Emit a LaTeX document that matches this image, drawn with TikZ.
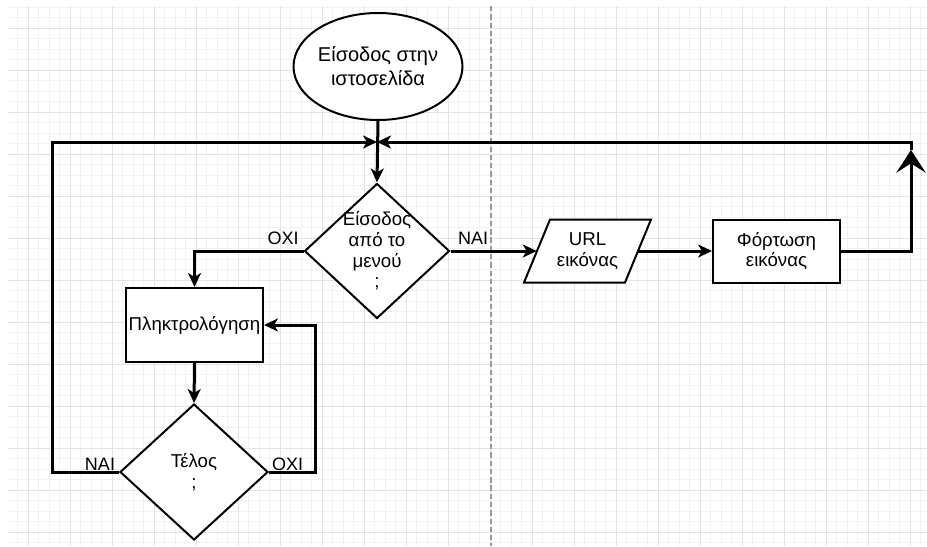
\documentclass[tikz,border=0pt]{standalone}
\usepackage{fontspec}
\setmainfont{Liberation Sans}
\usetikzlibrary{arrows.meta,shapes.geometric}

\tikzset{
  minorgrid/.style={draw=black!5, line width=0.75pt},
  majorgrid/.style={draw=black!11, line width=0.75pt},
  divider/.style={draw=black!40, line width=0.9pt, dash pattern=on 4pt off 2.2pt},
  shapeline/.style={draw=black, line width=1.5pt, fill=white},
  boxtext/.style={font=\fontsize{14}{15.5}\selectfont, align=center, text=black},
  answer/.style={font=\fontsize{13.5}{15}\selectfont, anchor=base, inner sep=0pt},
  startshape/.style={shapeline, ellipse, minimum width=126.75pt, minimum height=80.25pt, inner sep=0pt},
  decision/.style={shapeline, diamond, inner sep=0pt},
  process/.style={shapeline, rectangle, inner sep=0pt},
  conn/.style={line width=2.25pt, -{Stealth[length=10.5pt, width=9.75pt, inset=3pt]}},
  bigconn/.style={line width=2.25pt, -{Stealth[length=17pt, width=22pt, inset=7pt]}},
}

\begin{document}
\begin{tikzpicture}[x=0.75pt, y=-0.75pt]
\useasboundingbox (0,0) rectangle (927,546);

% background grid
\begin{scope}
  \clip (8,6) rectangle (927,546);
  \foreach \k in {0,...,87} \draw[minorgrid] (7+10.5*\k,6) -- (7+10.5*\k,546);
  \foreach \k in {0,...,51} \draw[minorgrid] (8,7+10.5*\k) -- (927,7+10.5*\k);
  \foreach \k in {0,...,21} \draw[majorgrid] (28+42*\k,6) -- (28+42*\k,546);
  \foreach \k in {0,...,12} \draw[majorgrid] (8,28+42*\k) -- (927,28+42*\k);
\end{scope}

% page divider
\coordinate (divTop) at (491,6);
\coordinate (divBot) at (491,546);
\draw[divider] (divTop) -- (divBot);

% flowchart shapes
\node[startshape, label={[boxtext, font=\fontsize{15}{18}\selectfont]center:{Είσοδος στην\\ιστοσελίδα}}] (start) at (378,66.5) {};
\node[decision, minimum width=108.75pt, minimum height=101.25pt,
      label={[boxtext]center:{Είσοδος\\από το\\μενού\\;}}] (d1) at (377,251) {};
\node[process, minimum width=102.75pt, minimum height=55.5pt, boxtext] (typing) at (194.5,325) {Πληκτρολόγηση};
\node[decision, minimum width=111pt, minimum height=102pt,
      label={[boxtext]center:{Τέλος\\;}}] (d2) at (194,472) {};

% input parallelogram
\filldraw[shapeline] (524,282.5) -- (550,219.5) -- (651,219.5) -- (625,282.5) -- cycle;
\node[boxtext, minimum width=75.75pt, minimum height=47.25pt, inner sep=0pt] (url) at (587.5,251) {URL\\εικόνας};
\node[process, minimum width=95.25pt, minimum height=47.25pt, boxtext] (fort) at (776.5,251) {Φόρτωση\\εικόνας};

% routing points
\coordinate (junction) at (377,142);
\coordinate (loopL) at (52,142);
\coordinate (loopR) at (315,400);
\coordinate (upTip) at (911,150);
\coordinate (rCorner) at (911,142);

% connectors
\draw[conn] (start.south) -- (d1.north);
\draw[conn] (d1.west) -| (typing.north);
\draw[conn] (typing.south) -- (d2.north);
\draw[conn] (d2.east) -| (loopR) |- (typing.east);
\draw[conn] (d2.west) -| (loopL) -- (junction);
\draw[conn] (d1.east) -- (url.west);
\draw[conn] (url.east) -- (fort.west);
\draw[bigconn] (fort.east) -| (upTip);
\draw[conn] (upTip) -- (rCorner) -- (junction);

% branch labels
\node[answer] (noTop) at (283,244) {ΟΧΙ};
\node[answer] (yesTop) at (473,244) {ΝΑΙ};
\node[answer] (yesBot) at (100,470) {ΝΑΙ};
\node[answer] (noBot) at (287.5,470) {ΟΧΙ};
\end{tikzpicture}
\end{document}
